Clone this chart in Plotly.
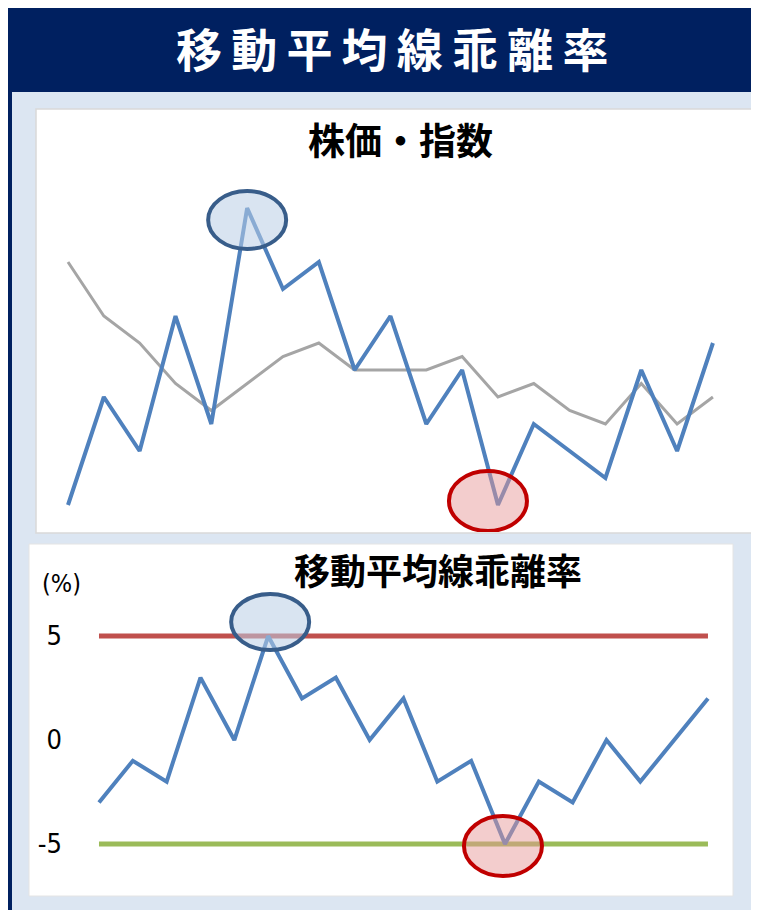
import plotly.graph_objects as go

OFF = 8  # default page margin of the html body
W, H = 759 - OFF, 910 - OFF

# ---- data ----
periods = list(range(19))
price = [0, 4, 2, 7, 3, 11, 8, 9, 5, 7, 3, 5, 0, 3, 2, 1, 5, 2, 6]
moving_avg = [9, 7, 6, 4.5, 3.5, 4.5, 5.5, 6, 5, 5, 5, 5.5, 4, 4.5, 3.5, 3, 4.5, 3, 4]
deviation = [-3, -1, -2, 3, 0, 5, 2, 3, 0, 2, -2, -1, -5, -2, -3, 0, -2, 0, 2]
upper_band = [5] * 19
lower_band = [-5] * 19
dev_ticks = [5, 0, -5]
dev_tick_text = ["5", "0", "-5"]
peak_idx = 5      # highlighted high point
trough_idx = 12   # highlighted low point

main_title = "移動平均線乖離率"
top_title = "株価・指数"
bottom_title = "移動平均線乖離率"

NAVY = "#002060"
BG = "#dce6f2"
BLUE = "#4f81bd"
GRAY = "#a5a5a5"
RED = "#c0504d"
GREEN = "#9bbb59"
JP = "Noto Sans CJK JP"
NARROW = "Liberation Sans Narrow, DejaVu Sans Condensed, sans-serif"


def px(x):
    return (x - OFF) / W


def py(y):
    return 1 - (y - OFF) / H


fig = go.Figure()

fig.add_trace(go.Scatter(x=periods, y=moving_avg, mode="lines",
                         line=dict(color=GRAY, width=3), xaxis="x", yaxis="y",
                         showlegend=False, hoverinfo="skip"))
fig.add_trace(go.Scatter(x=periods, y=price, mode="lines",
                         line=dict(color=BLUE, width=4), xaxis="x", yaxis="y",
                         showlegend=False))

fig.add_trace(go.Scatter(x=periods, y=upper_band, mode="lines",
                         line=dict(color=RED, width=5), xaxis="x2", yaxis="y2",
                         showlegend=False, hoverinfo="skip"))
fig.add_trace(go.Scatter(x=periods, y=lower_band, mode="lines",
                         line=dict(color=GREEN, width=5), xaxis="x2", yaxis="y2",
                         showlegend=False, hoverinfo="skip"))
fig.add_trace(go.Scatter(x=periods, y=deviation, mode="lines",
                         line=dict(color=BLUE, width=4), xaxis="x2", yaxis="y2",
                         showlegend=False))

shapes = []
# background frame pieces
shapes.append(dict(type="rect", xref="paper", yref="paper", layer="below",
                   x0=px(8), x1=px(759), y0=py(92), y1=py(8),
                   fillcolor=NAVY, line=dict(width=0)))
shapes.append(dict(type="rect", xref="paper", yref="paper", layer="below",
                   x0=px(8), x1=px(12), y0=py(910), y1=py(92),
                   fillcolor=NAVY, line=dict(width=0)))
shapes.append(dict(type="rect", xref="paper", yref="paper", layer="below",
                   x0=px(36), x1=px(753), y0=py(533), y1=py(109),
                   fillcolor="white", line=dict(color="#d9d9d9", width=1.5)))
shapes.append(dict(type="rect", xref="paper", yref="paper", layer="below",
                   x0=px(29), x1=px(733), y0=py(896), y1=py(544),
                   fillcolor="white", line=dict(color="#e4e4e4", width=1)))

blue_fill = "rgba(185,205,229,0.55)"
red_fill = "rgba(229,150,150,0.48)"
blue_edge = "#385d8a"
red_edge = "#c00000"


def ell(xr, yr, xa, ya, x0, x1, y0, y1, fill, edge):
    return dict(type="circle", xref=xr, yref=yr, xsizemode="pixel", ysizemode="pixel",
                xanchor=xa, yanchor=ya, x0=x0, x1=x1, y0=y0, y1=y1,
                fillcolor=fill, line=dict(color=edge, width=4), layer="above")


shapes.append(ell("x", "y", peak_idx, price[peak_idx], -39, 39, -41, 17, blue_fill, blue_edge))
shapes.append(ell("x", "y", trough_idx, price[trough_idx], -49, 29, -26, 34, red_fill, red_edge))
shapes.append(ell("x2", "y2", peak_idx, deviation[peak_idx], -37, 41, -14, 42, blue_fill, blue_edge))
shapes.append(ell("x2", "y2", trough_idx, deviation[trough_idx], -41, 37, -32, 28, red_fill, red_edge))

thin = "\u2009"
annotations = [
    dict(text=thin.join(main_title), x=px(392), y=py(47), xref="paper", yref="paper",
         showarrow=False, xanchor="center", yanchor="middle",
         font=dict(family=JP, size=46, color="white", weight="bold")),
    dict(text=top_title, x=px(400), y=py(139), xref="paper", yref="paper",
         showarrow=False, xanchor="center", yanchor="middle",
         font=dict(family=JP, size=37, color="black", weight="bold")),
    dict(text=bottom_title, x=px(438), y=py(569), xref="paper", yref="paper",
         showarrow=False, xanchor="center", yanchor="middle",
         font=dict(family=JP, size=36, color="black", weight="bold")),
    dict(text="(%)", x=px(61), y=py(583), xref="paper", yref="paper",
         showarrow=False, xanchor="center", yanchor="middle",
         font=dict(family=NARROW, size=25, color="black")),
]

fig.update_layout(
    width=W, height=H, margin=dict(l=0, r=0, t=0, b=0),
    paper_bgcolor=BG, plot_bgcolor="rgba(0,0,0,0)",
    shapes=shapes, annotations=annotations, showlegend=False,
    xaxis=dict(domain=[px(37), px(752)], range=[-0.865, 19.09], visible=False),
    yaxis=dict(domain=[py(532), py(110)], range=[-1, 14.63], visible=False),
    xaxis2=dict(domain=[px(68), px(732)], range=[-0.916, 18.71], visible=False,
                anchor="y2"),
    yaxis2=dict(domain=[py(895), py(545)], range=[-7.45, 9.375], anchor="x2",
                showgrid=False, zeroline=False, showline=False, ticks="",
                tickvals=dev_ticks, ticktext=dev_tick_text, ticklabelstandoff=5,
                tickfont=dict(family=NARROW, size=27, color="black")),
)

fig.write_html("out.html")
